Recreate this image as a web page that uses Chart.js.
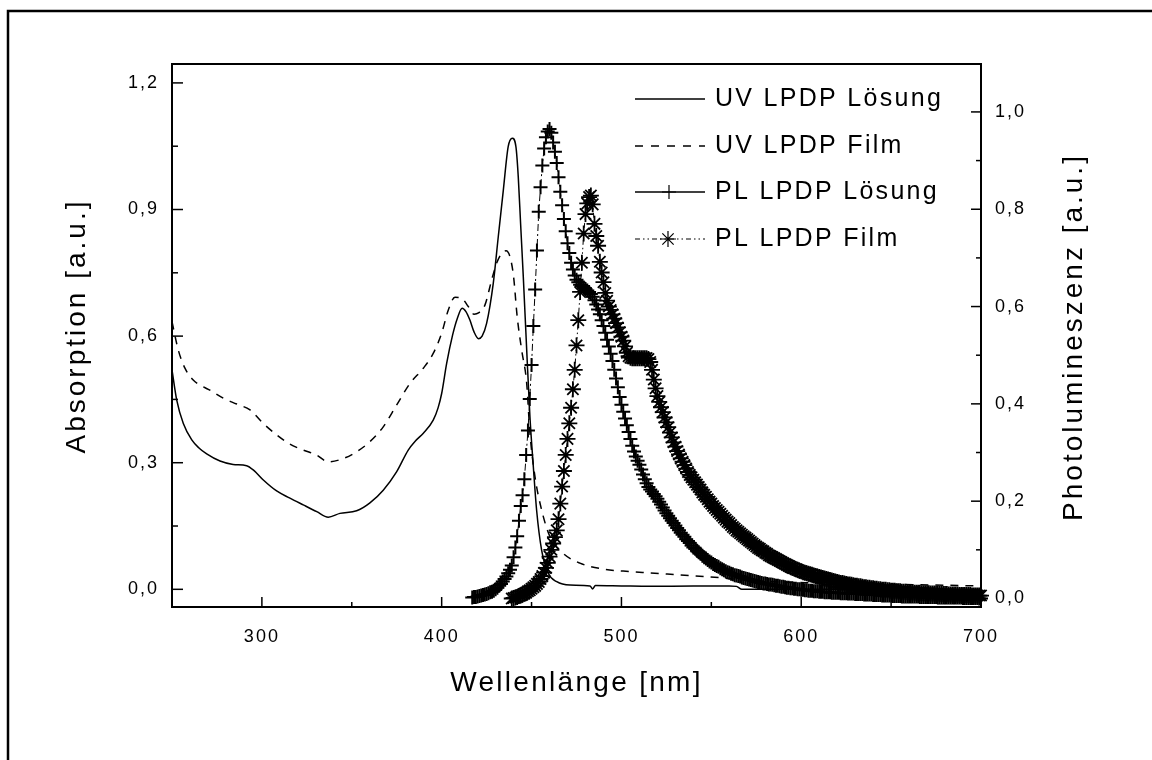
<!DOCTYPE html>
<html>
<head>
<meta charset="utf-8">
<script src="https://cdn.jsdelivr.net/npm/chart.js@4.4.1/dist/chart.umd.min.js"></script>
<style>
  html, body { margin: 0; padding: 0; background: #fff; }
</style>
</head>
<body>
<canvas id="Chart" width="1152" height="760"></canvas>
<script>
// UV absorption, solution (solid line)
let uvSolNm = [250, 252.6, 256.3, 261, 265, 269.3, 276.7, 284, 291.5, 295.2,
    300.8, 308.2, 315.6, 323, 330.5, 336.9, 343.4, 352.7, 360.1, 367.5,
    375, 381.4, 385.5, 389.8, 395.3, 398, 400, 402.8, 406.1, 408.7,
    411.4, 413.5, 415.7, 418, 420.5, 422.5, 425, 428.7, 431.5, 434.3,
    437, 439.3, 441.3, 442.6, 443.9, 445.4, 447.3, 449.1, 451, 452.8,
    455.6, 459.3, 464, 471.4, 482.5, 484, 485.5, 500, 516, 540,
    560, 564, 567, 600, 650, 700];
let uvSolAbs = [0.52, 0.449, 0.393, 0.354, 0.335, 0.321, 0.304, 0.296, 0.293, 0.283,
    0.259, 0.233, 0.216, 0.2, 0.184, 0.171, 0.18, 0.186, 0.205, 0.235,
    0.279, 0.33, 0.352, 0.37, 0.401, 0.43, 0.464, 0.536, 0.603, 0.642,
    0.666, 0.658, 0.638, 0.61, 0.594, 0.6, 0.63, 0.725, 0.836, 0.946,
    1.049, 1.069, 1.049, 0.978, 0.867, 0.741, 0.567, 0.409, 0.29, 0.188,
    0.093, 0.038, 0.018, 0.01, 0.008, 0.001, 0.009, 0.008, 0.007, 0.008,
    0.008, 0.007, 0.0, 0.0, 0.0, 0.0];

// UV absorption, film (dashed line)
let uvFilmNm = [250, 253.5, 257.2, 261.8, 266, 270.2, 278.5, 286, 293.4, 300.8,
    308.2, 315.6, 323, 330.5, 336.9, 345.3, 352.7, 360.1, 367.5, 375,
    382.4, 389.8, 395.3, 400, 403.7, 407.4, 411.1, 414.8, 418, 420.5,
    424.1, 427.8, 430.6, 433.4, 435.8, 438, 440, 442, 444.5, 447.3,
    449.1, 451.9, 455.6, 460.2, 467.6, 476.9, 489.9, 504.7, 515.8, 530,
    547.4, 565, 584, 610, 650, 700];
let uvFilmAbs = [0.634, 0.567, 0.524, 0.496, 0.483, 0.474, 0.453, 0.439, 0.425, 0.393,
    0.366, 0.344, 0.33, 0.318, 0.302, 0.31, 0.326, 0.35, 0.385, 0.437,
    0.488, 0.524, 0.559, 0.607, 0.662, 0.692, 0.69, 0.67, 0.652, 0.655,
    0.674, 0.733, 0.773, 0.796, 0.802, 0.788, 0.741, 0.646, 0.567, 0.488,
    0.37, 0.267, 0.188, 0.125, 0.085, 0.062, 0.048, 0.042, 0.039, 0.035,
    0.03, 0.024, 0.018, 0.015, 0.012, 0.008];

// PL solution, one value per nm starting at plSolStart
let plSolStart = 417;
let plSolPL = [
    0.002, 0.003, 0.003, 0.004, 0.005, 0.006, 0.007, 0.008, 0.009, 0.011,
    0.013, 0.014, 0.016, 0.019, 0.022, 0.026, 0.030, 0.035, 0.040, 0.045,
    0.052, 0.059, 0.068, 0.085, 0.105, 0.128, 0.160, 0.190, 0.212, 0.245,
    0.295, 0.345, 0.410, 0.480, 0.560, 0.635, 0.715, 0.795, 0.845, 0.890,
    0.925, 0.948, 0.960, 0.965, 0.957, 0.937, 0.918, 0.895, 0.866, 0.836,
    0.808, 0.780, 0.755, 0.730, 0.710, 0.690, 0.676, 0.664, 0.655, 0.650,
    0.645, 0.642, 0.639, 0.636, 0.633, 0.630, 0.626, 0.620, 0.613, 0.604,
    0.594, 0.584, 0.572, 0.560, 0.546, 0.532, 0.518, 0.503, 0.488, 0.470,
    0.452, 0.434, 0.414, 0.398, 0.384, 0.370, 0.356, 0.342, 0.328, 0.314,
    0.302, 0.292, 0.283, 0.275, 0.265, 0.255, 0.245, 0.237, 0.229, 0.224,
    0.220, 0.215, 0.210, 0.205, 0.199, 0.193, 0.187, 0.181, 0.175, 0.170,
    0.165, 0.160, 0.155, 0.150, 0.145, 0.140, 0.135, 0.131, 0.127, 0.122,
    0.118, 0.114, 0.109, 0.105, 0.102, 0.098, 0.095, 0.092, 0.088, 0.085,
    0.082, 0.079, 0.076, 0.074, 0.071, 0.069, 0.067, 0.065, 0.062, 0.060,
    0.058, 0.056, 0.054, 0.053, 0.051, 0.050, 0.048, 0.047, 0.046, 0.045,
    0.043, 0.042, 0.041, 0.040, 0.039, 0.038, 0.037, 0.036, 0.035, 0.034,
    0.033, 0.032, 0.031, 0.031, 0.030, 0.029, 0.029, 0.028, 0.027, 0.026,
    0.026, 0.025, 0.024, 0.024, 0.023, 0.022, 0.022, 0.021, 0.021, 0.020,
    0.020, 0.019, 0.019, 0.018, 0.018, 0.017, 0.017, 0.016, 0.016, 0.016,
    0.015, 0.015, 0.015, 0.014, 0.014, 0.014, 0.013, 0.013, 0.013, 0.013,
    0.012, 0.012, 0.012, 0.012, 0.012, 0.011, 0.011, 0.011, 0.011, 0.010,
    0.010, 0.010, 0.010, 0.009, 0.009, 0.009, 0.009, 0.009, 0.008, 0.008,
    0.008, 0.008, 0.008, 0.007, 0.007, 0.007, 0.007, 0.007, 0.006, 0.006,
    0.006, 0.006, 0.006, 0.006, 0.005, 0.005, 0.005, 0.005, 0.005, 0.004,
    0.004, 0.004, 0.004, 0.004, 0.004, 0.004, 0.004, 0.004, 0.004, 0.003,
    0.003, 0.003, 0.003, 0.003, 0.003, 0.003, 0.003, 0.003, 0.003, 0.002,
    0.002, 0.002, 0.002, 0.002, 0.002, 0.002, 0.002, 0.002, 0.002, 0.002,
    0.002, 0.002, 0.002, 0.001, 0.001, 0.001, 0.001, 0.001, 0.001, 0.001,
    0.001, 0.001, 0.000, 0.000];

// PL film, one value per nm starting at plFilmStart
let plFilmStart = 439;
let plFilmPL = [
    0.000, 0.001, 0.002, 0.003, 0.005, 0.006, 0.008, 0.010, 0.012, 0.015,
    0.017, 0.020, 0.023, 0.026, 0.030, 0.034, 0.040, 0.046, 0.053, 0.063,
    0.073, 0.086, 0.100, 0.113, 0.126, 0.140, 0.163, 0.195, 0.230, 0.262,
    0.295, 0.328, 0.360, 0.392, 0.430, 0.470, 0.520, 0.572, 0.630, 0.690,
    0.750, 0.790, 0.812, 0.825, 0.828, 0.810, 0.770, 0.745, 0.725, 0.692,
    0.670, 0.650, 0.628, 0.612, 0.600, 0.593, 0.584, 0.575, 0.566, 0.557,
    0.547, 0.538, 0.530, 0.518, 0.505, 0.498, 0.495, 0.494, 0.494, 0.494,
    0.494, 0.494, 0.494, 0.494, 0.494, 0.494, 0.492, 0.486, 0.470, 0.450,
    0.432, 0.416, 0.404, 0.393, 0.383, 0.372, 0.362, 0.352, 0.341, 0.331,
    0.321, 0.312, 0.303, 0.296, 0.288, 0.281, 0.274, 0.267, 0.260, 0.254,
    0.249, 0.244, 0.239, 0.234, 0.229, 0.224, 0.218, 0.213, 0.209, 0.204,
    0.199, 0.195, 0.190, 0.186, 0.182, 0.178, 0.174, 0.170, 0.166, 0.162,
    0.158, 0.155, 0.151, 0.147, 0.144, 0.140, 0.137, 0.134, 0.131, 0.128,
    0.125, 0.122, 0.119, 0.116, 0.113, 0.110, 0.107, 0.104, 0.102, 0.099,
    0.097, 0.094, 0.092, 0.089, 0.087, 0.085, 0.083, 0.081, 0.079, 0.077,
    0.075, 0.073, 0.071, 0.069, 0.067, 0.065, 0.063, 0.062, 0.060, 0.059,
    0.057, 0.056, 0.054, 0.053, 0.052, 0.051, 0.050, 0.049, 0.047, 0.046,
    0.045, 0.044, 0.043, 0.042, 0.041, 0.040, 0.039, 0.038, 0.037, 0.036,
    0.035, 0.034, 0.033, 0.032, 0.032, 0.031, 0.030, 0.029, 0.029, 0.028,
    0.027, 0.026, 0.026, 0.025, 0.025, 0.024, 0.023, 0.023, 0.022, 0.022,
    0.021, 0.021, 0.020, 0.020, 0.019, 0.019, 0.018, 0.018, 0.018, 0.017,
    0.017, 0.016, 0.016, 0.016, 0.015, 0.015, 0.015, 0.014, 0.014, 0.014,
    0.013, 0.013, 0.013, 0.013, 0.012, 0.012, 0.012, 0.012, 0.011, 0.011,
    0.011, 0.011, 0.011, 0.010, 0.010, 0.010, 0.010, 0.010, 0.009, 0.009,
    0.009, 0.009, 0.009, 0.008, 0.008, 0.008, 0.008, 0.008, 0.008, 0.007,
    0.007, 0.007, 0.007, 0.007, 0.007, 0.007, 0.006, 0.006, 0.006, 0.006,
    0.006, 0.006];

let legendLabels = ['UV LPDP Lösung', 'UV LPDP Film', 'PL LPDP Lösung', 'PL LPDP Film'];

let xTicks = [300, 400, 500, 600, 700];
let xMinorTicks = [350, 450, 550, 650];
let absTicks = [0, 0.3, 0.6, 0.9, 1.2];
let absMinorTicks = [0.15, 0.45, 0.75, 1.05];
let plTicks = [0, 0.2, 0.4, 0.6, 0.8, 1.0];
let plMinorTicks = [0.1, 0.3, 0.5, 0.7, 0.9];

let FONT = "'Liberation Sans', Arial, sans-serif";

function pairs(xs, ys) {
    return xs.map(function (x, i) { return {x: x, y: ys[i]}; });
}

function fromStart(start, ys) {
    return ys.map(function (y, i) { return {x: start + i, y: y}; });
}

function commaLabel(v) {
    return Number(v).toFixed(1).replace('.', ',');
}

function setTicks(values) {
    return function (scale) {
        scale.ticks = values.map(function (v) { return {value: v}; });
    };
}

function drawMarker(ctx, style, radius, x, y) {
    Chart.helpers.drawPoint(ctx, {pointStyle: style, radius: radius, borderWidth: 1.6, rotation: 0}, x, y);
}

let framePlugin = {
    id: 'frame',
    beforeDraw: function (chart) {
        chart.ctx.letterSpacing = '2px';
    },
    afterDraw: function (chart) {
        let ctx = chart.ctx;
        let a = chart.chartArea;
        let s = chart.scales;
        ctx.save();
        ctx.strokeStyle = '#000';
        ctx.fillStyle = '#000';

        // outer figure border (only top and left edges are on the page)
        ctx.lineWidth = 2.5;
        ctx.beginPath();
        ctx.moveTo(8, 770);
        ctx.lineTo(8, 11);
        ctx.lineTo(1160, 11);
        ctx.stroke();

        // plot frame
        ctx.lineWidth = 2;
        ctx.strokeRect(a.left, a.top, a.right - a.left, a.bottom - a.top);

        // inward tick marks
        ctx.lineWidth = 1.5;
        function ticks(scale, values, len, side) {
            values.forEach(function (v) {
                let p = scale.getPixelForValue(v);
                ctx.beginPath();
                if (side === 'bottom') {
                    ctx.moveTo(p, a.bottom); ctx.lineTo(p, a.bottom - len);
                } else if (side === 'left') {
                    ctx.moveTo(a.left, p); ctx.lineTo(a.left + len, p);
                } else {
                    ctx.moveTo(a.right, p); ctx.lineTo(a.right - len, p);
                }
                ctx.stroke();
            });
        }
        ticks(s.x, xTicks, 10, 'bottom');
        ticks(s.x, xMinorTicks, 5, 'bottom');
        ticks(s.yL, absTicks, 11, 'left');
        ticks(s.yL, absMinorTicks, 6, 'left');
        ticks(s.yR, plTicks, 10, 'right');
        ticks(s.yR, plMinorTicks, 5, 'right');

        // axis titles
        ctx.textBaseline = 'middle';
        ctx.textAlign = 'center';
        ctx.font = '28px ' + FONT;
        ctx.letterSpacing = '2.3px';
        ctx.fillText('Wellenlänge [nm]', (a.left + a.right) / 2, 683);

        ctx.letterSpacing = '3px';
        ctx.save();
        ctx.translate(77, 326);
        ctx.rotate(-Math.PI / 2);
        ctx.fillText('Absorption [a.u.]', 0, 0);
        ctx.restore();

        ctx.save();
        ctx.translate(1074, 337);
        ctx.rotate(-Math.PI / 2);
        ctx.fillText('Photolumineszenz [a.u.]', 0, 0);
        ctx.restore();

        // legend
        let rows = [99, 146, 192, 239];
        let x0 = 635, x1 = 705;
        ctx.lineWidth = 1.5;
        ctx.setLineDash([]);
        ctx.beginPath(); ctx.moveTo(x0, rows[0]); ctx.lineTo(x1, rows[0]); ctx.stroke();
        ctx.setLineDash([8, 8]);
        ctx.beginPath(); ctx.moveTo(x0, rows[1]); ctx.lineTo(x1, rows[1]); ctx.stroke();
        ctx.setLineDash([]);
        ctx.beginPath(); ctx.moveTo(x0, rows[2]); ctx.lineTo(x1, rows[2]); ctx.stroke();
        ctx.setLineDash([5, 3, 1.5, 3, 1.5, 3]);
        ctx.lineWidth = 1.2;
        ctx.beginPath(); ctx.moveTo(x0, rows[3]); ctx.lineTo(x1, rows[3]); ctx.stroke();
        ctx.setLineDash([]);
        drawMarker(ctx, 'cross', 7, 669, rows[2]);
        drawMarker(ctx, 'star', 8, 668, rows[3]);

        ctx.textAlign = 'left';
        ctx.font = '25px ' + FONT;
        ctx.letterSpacing = '2.3px';
        legendLabels.forEach(function (t, i) {
            ctx.fillText(t, 715, rows[i]);
        });
        ctx.restore();
    }
};

let config = {
    type: 'line',
    data: {
        datasets: [{
            label: legendLabels[0],
            data: pairs(uvSolNm, uvSolAbs),
            yAxisID: 'yL',
            borderColor: '#000',
            borderWidth: 1.5,
            pointRadius: 0,
            cubicInterpolationMode: 'monotone',
            fill: false
        }, {
            label: legendLabels[1],
            data: pairs(uvFilmNm, uvFilmAbs),
            yAxisID: 'yL',
            borderColor: '#000',
            borderWidth: 1.5,
            borderDash: [8, 7],
            pointRadius: 0,
            cubicInterpolationMode: 'monotone',
            fill: false
        }, {
            label: legendLabels[2],
            data: fromStart(plSolStart, plSolPL),
            yAxisID: 'yR',
            borderColor: '#000',
            borderWidth: 1,
            borderDash: [7, 3, 2, 3],
            pointStyle: 'cross',
            pointRadius: 7,
            pointBorderWidth: 2,
            pointBorderColor: '#000',
            fill: false,
            clip: false
        }, {
            label: legendLabels[3],
            data: fromStart(plFilmStart, plFilmPL),
            yAxisID: 'yR',
            borderColor: '#000',
            borderWidth: 1,
            borderDash: [5, 3, 1.5, 3, 1.5, 3],
            pointStyle: 'star',
            pointRadius: 8,
            pointBorderWidth: 1.8,
            pointBorderColor: '#000',
            fill: false,
            clip: false
        }]
    },
    options: {
        responsive: false,
        animation: false,
        devicePixelRatio: 1,
        layout: {padding: {top: 64, left: 0, right: 0, bottom: 0}},
        plugins: {legend: {display: false}, tooltip: {enabled: false}},
        scales: {
            x: {
                type: 'linear',
                min: 250,
                max: 700,
                afterBuildTicks: setTicks(xTicks),
                afterFit: function (s) { s.height = 153; },
                grid: {display: false, drawTicks: false},
                border: {display: false},
                ticks: {
                    padding: 19,
                    color: '#000',
                    font: {family: FONT, size: 18},
                    maxRotation: 0,
                    callback: function (v) { return String(v); }
                }
            },
            yL: {
                type: 'linear',
                position: 'left',
                min: -0.0419,
                max: 1.2448,
                afterBuildTicks: setTicks(absTicks),
                afterFit: function (s) { s.width = 172; },
                grid: {display: false, drawTicks: false},
                border: {display: false},
                ticks: {
                    padding: 13,
                    color: '#000',
                    font: {family: FONT, size: 18},
                    callback: commaLabel
                }
            },
            yR: {
                type: 'linear',
                position: 'right',
                min: -0.0175,
                max: 1.0985,
                afterBuildTicks: setTicks(plTicks),
                afterFit: function (s) { s.width = 171; },
                grid: {display: false, drawTicks: false},
                border: {display: false},
                ticks: {
                    padding: 14,
                    color: '#000',
                    font: {family: FONT, size: 18},
                    callback: commaLabel
                }
            }
        }
    },
    plugins: [framePlugin]
};

window.onload = function () {
    let ctx = document.getElementById('Chart').getContext('2d');
    window.myLine = new Chart(ctx, config);
};
</script>
</body>
</html>
